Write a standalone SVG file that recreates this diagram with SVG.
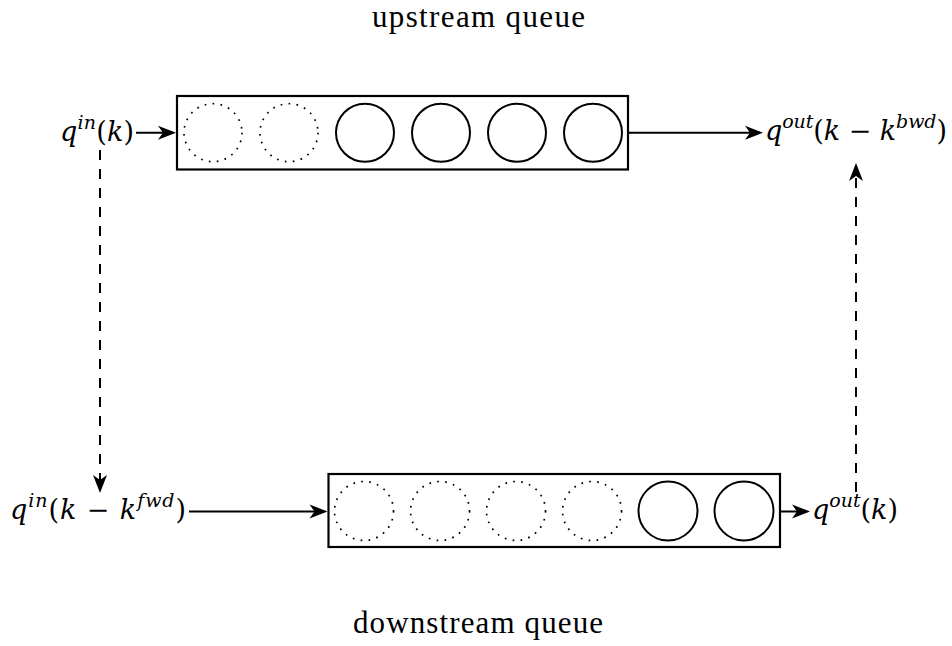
<svg xmlns="http://www.w3.org/2000/svg" width="952" height="646" viewBox="0 0 952 646">
<style>
  text { font-family: "Liberation Serif", "DejaVu Serif", serif; fill: #000; }
  .title { font-size: 31px; }
  .m { font-family: "DejaVu Serif", "Liberation Serif", serif; font-size: 27px; }
  .i { font-style: italic; }
  .sup { font-size: 19px; font-style: italic; }
  .box { fill: #fff; stroke: #000; stroke-width: 2.2; }
  .full { fill: none; stroke: #000; stroke-width: 2; }
  .dot { fill: none; stroke: #000; stroke-width: 1.7; stroke-dasharray: 1.7 6.3; }
  .conn { fill: none; stroke: #000; stroke-width: 2; }
  .dash { stroke-dasharray: 10 9; }
</style>
<defs>
  <marker id="arr" markerWidth="22" markerHeight="18" refX="16" refY="9" orient="auto" markerUnits="userSpaceOnUse">
    <path d="M19,9 L1,2 L6,9 L1,16 Z" fill="#000"/>
  </marker>
</defs>
<rect width="952" height="646" fill="#fff"/>

<g id="title-upstream"><text class="title" x="478.5" y="27" text-anchor="middle" textLength="213" lengthAdjust="spacing">upstream queue</text></g>
<g id="title-downstream"><text class="title" x="478" y="633" text-anchor="middle" textLength="250" lengthAdjust="spacing">downstream queue</text></g>

<g id="upstream-queue">
  <rect class="box" x="177" y="96" width="451" height="73.5"/>
  <circle class="dot" cx="213" cy="132.7" r="29"/>
  <circle class="dot" cx="289" cy="132.7" r="29"/>
  <circle class="full" cx="365" cy="132.7" r="29"/>
  <circle class="full" cx="441" cy="132.7" r="29"/>
  <circle class="full" cx="517" cy="132.7" r="29"/>
  <circle class="full" cx="593" cy="132.7" r="29"/>
</g>

<g id="downstream-queue">
  <rect class="box" x="328.5" y="474" width="451.5" height="73"/>
  <circle class="dot" cx="364" cy="511" r="29.5"/>
  <circle class="dot" cx="440" cy="511" r="29.5"/>
  <circle class="dot" cx="516" cy="511" r="29.5"/>
  <circle class="dot" cx="592" cy="511" r="29.5"/>
  <circle class="full" cx="668" cy="511" r="29.5"/>
  <circle class="full" cx="744" cy="511" r="29.5"/>
</g>

<g id="label-qin-k">
  <text class="m" x="60" y="141" textLength="74" lengthAdjust="spacing"><tspan class="i">q</tspan><tspan class="sup" dy="-12">in</tspan><tspan dy="12">(</tspan><tspan class="i">k</tspan>)</text>
</g>
<g id="label-qout-k-kbwd">
  <text class="m" x="765" y="140" textLength="182" lengthAdjust="spacing"><tspan class="i">q</tspan><tspan class="sup" dy="-12">out</tspan><tspan dy="12">(</tspan><tspan class="i">k</tspan> − <tspan class="i">k</tspan><tspan class="sup" dy="-12">bwd</tspan><tspan dy="12">)</tspan></text>
</g>
<g id="label-qin-k-kfwd">
  <text class="m" x="10" y="519" textLength="176" lengthAdjust="spacing"><tspan class="i">q</tspan><tspan class="sup" dy="-12">in</tspan><tspan dy="12">(</tspan><tspan class="i">k</tspan> − <tspan class="i">k</tspan><tspan class="sup" dy="-12">fwd</tspan><tspan dy="12">)</tspan></text>
</g>
<g id="label-qout-k">
  <text class="m" x="812" y="519" textLength="86" lengthAdjust="spacing"><tspan class="i">q</tspan><tspan class="sup" dy="-12">out</tspan><tspan dy="12">(</tspan><tspan class="i">k</tspan>)</text>
</g>

<g id="connectors">
  <line class="conn" x1="136" y1="132.7" x2="173" y2="132.7" marker-end="url(#arr)"/>
  <line class="conn" x1="628" y1="132.7" x2="760" y2="132.7" marker-end="url(#arr)"/>
  <line class="conn" x1="189" y1="511.5" x2="324.5" y2="511.5" marker-end="url(#arr)"/>
  <line class="conn" x1="780" y1="511.5" x2="807" y2="511.5" marker-end="url(#arr)"/>
  <line class="conn dash" x1="100" y1="150" x2="100" y2="490" marker-end="url(#arr)"/>
  <line class="conn dash" x1="856" y1="492" x2="856" y2="166" marker-end="url(#arr)"/>
</g>
</svg>
